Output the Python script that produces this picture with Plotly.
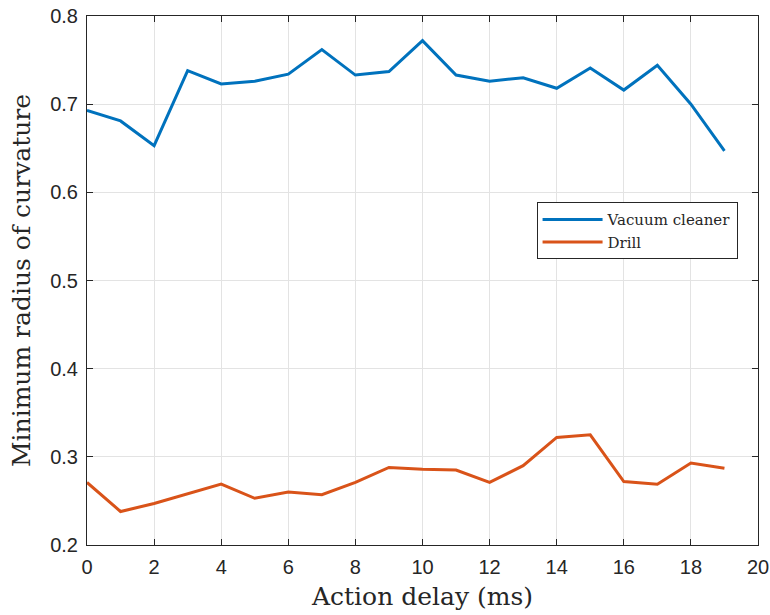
import plotly.graph_objects as go

delay = list(range(20))
vacuum = [0.693, 0.681, 0.653, 0.738, 0.723, 0.726, 0.734, 0.762, 0.733, 0.737,
          0.772, 0.733, 0.726, 0.730, 0.718, 0.741, 0.716, 0.744, 0.700, 0.647]
drill = [0.271, 0.238, 0.247, 0.258, 0.269, 0.253, 0.260, 0.257, 0.271, 0.288,
         0.286, 0.285, 0.271, 0.290, 0.322, 0.325, 0.272, 0.269, 0.293, 0.287]
x_ticks = [0, 2, 4, 6, 8, 10, 12, 14, 16, 18, 20]
y_ticks = [0.2, 0.3, 0.4, 0.5, 0.6, 0.7, 0.8]

fig = go.Figure()
fig.add_trace(go.Scatter(x=delay, y=vacuum, mode="lines", name="Vacuum cleaner",
                         line=dict(color="#0072BD", width=3)))
fig.add_trace(go.Scatter(x=delay, y=drill, mode="lines", name="Drill",
                         line=dict(color="#D95319", width=3)))

axis_common = dict(
    showline=True, linecolor="#262626", linewidth=1, mirror="ticks",
    ticks="inside", ticklen=6, tickcolor="#262626", tickwidth=1,
    showgrid=True, gridcolor="#e3e3e3", gridwidth=1, zeroline=False,
    automargin=False, ticklabelstandoff=4,
    tickfont=dict(family="Liberation Sans, Arial", size=20, color="#262626"),
)

fig.update_layout(
    width=770, height=615,
    margin=dict(l=86.5, r=12, t=15.7, b=70.3),
    paper_bgcolor="white", plot_bgcolor="white",
    xaxis=dict(range=[0, 20], tickvals=x_ticks, ticktext=[str(t) for t in x_ticks],
               title=dict(text="Action delay (ms)", standoff=10,
                          font=dict(family="DejaVu Serif", size=25, color="#262626")),
               **axis_common),
    yaxis=dict(range=[0.2, 0.8], tickvals=y_ticks, ticktext=[f"{t:.1f}" for t in y_ticks],
               title=dict(text="Minimum radius of curvature", standoff=12,
                          font=dict(family="DejaVu Serif", size=25, color="#262626")),
               **axis_common),
    legend=dict(x=0.670, y=0.648, xanchor="left", yanchor="top",
                bgcolor="white", bordercolor="#262626", borderwidth=1,
                font=dict(family="DejaVu Serif", size=15, color="#262626"),
                itemwidth=60, tracegroupgap=0),
    showlegend=True,
)

fig.write_html("out.html")
